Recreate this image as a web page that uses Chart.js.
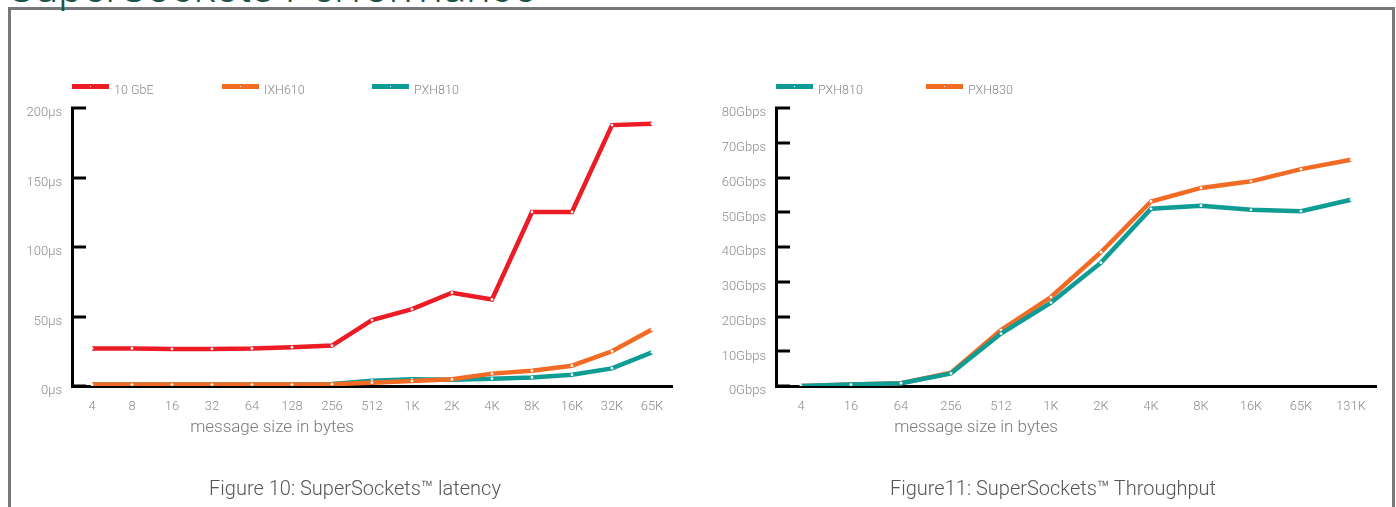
<!DOCTYPE html>
<html>
<head>
<meta charset="utf-8">
<script src="https://cdn.jsdelivr.net/npm/chart.js@4.4.1/dist/chart.umd.min.js"></script>
<style>
  body { margin: 0; width: 1396px; height: 507px; overflow: hidden; background: #fff; position: relative; font-family: Roboto, "Liberation Sans", sans-serif; }
  .frame { position: absolute; left: 8px; top: 7px; width: 1387px; height: 520px; border: 3px solid #77787b; border-bottom: none; box-sizing: border-box; }
  .title { position: absolute; left: 8px; top: -35.5px; font-size: 44px; line-height: 44px; font-weight: 300; color: #1e5248; white-space: nowrap; }
  canvas { position: absolute; top: 0; }
  .caption { position: absolute; top: 476px; width: 500px; text-align: center; font-size: 20px; font-weight: 300; color: #555; }
</style>
</head>
<body>
<div class="frame"></div>
<div class="title">SuperSockets Performance</div>
<canvas id="latency" width="698" height="507" style="left:0"></canvas>
<canvas id="throughput" width="698" height="507" style="left:698px"></canvas>
<div class="caption" style="left:105px">Figure 10: SuperSockets™ latency</div>
<div class="caption" style="left:803px">Figure11: SuperSockets™ Throughput</div>
<script>
// latency, µs
const latencySizes = ['4', '8', '16', '32', '64', '128', '256', '512', '1K', '2K', '4K', '8K', '16K', '32K', '65K'];
const latency10GbE = [27, 27, 26.7, 26.7, 26.9, 27.9, 29.1, 47.4, 55.3, 67.1, 62.3, 125.2, 125.2, 187.7, 188.7];
const latencyIXH610 = [1, 1, 1, 1, 1, 1, 1.3, 2.4, 3.6, 4.8, 8.9, 11, 14.6, 25, 40.6];
const latencyPXH810 = [1, 1, 1, 1, 1, 1, 1.5, 3.8, 4.8, 4.5, 5.3, 6.2, 8.1, 12.7, 24.2];

// throughput, Gbps
const throughputSizes = ['4', '16', '64', '256', '512', '1K', '2K', '4K', '8K', '16K', '65K', '131K'];
const throughputPXH810 = [0, 0.4, 0.8, 3.6, 15.1, 24.0, 35.5, 51.0, 51.9, 50.7, 50.3, 53.6];
const throughputPXH830 = [0, 0.4, 0.8, 3.8, 16.1, 25.6, 38.5, 53.1, 57.0, 58.9, 62.4, 65.1];

const RED = '#ed1c24';
const ORANGE = '#f26b24';
const TEAL = '#0f9c95';
const FONT = 'Roboto, "Liberation Sans", sans-serif';

// inward y ticks, x axis title and the legend row
const decor = {
  id: 'decor',
  afterDraw(chart, args, opts) {
    const { ctx, chartArea, scales } = chart;
    ctx.save();
    ctx.strokeStyle = '#000';
    ctx.lineWidth = 3;
    scales.y.ticks.forEach((t) => {
      const y = Math.round(scales.y.getPixelForValue(t.value));
      ctx.beginPath();
      ctx.moveTo(chartArea.left - 1, y);
      ctx.lineTo(chartArea.left + 14, y);
      ctx.stroke();
    });

    ctx.fillStyle = '#7a7a7a';
    ctx.font = '300 17px ' + FONT;
    ctx.textAlign = 'center';
    ctx.textBaseline = 'middle';
    ctx.fillText(opts.xTitle, chartArea.left + 200, chartArea.bottom + 42);

    ctx.textAlign = 'left';
    ctx.font = '300 12.5px ' + FONT;
    chart.data.datasets.forEach((ds, i) => {
      const x = chartArea.left + i * 150;
      ctx.fillStyle = ds.borderColor;
      ctx.fillRect(x, 84, 37, 5);
      ctx.fillStyle = '#fff';
      ctx.fillRect(x + 18, 86, 1, 1);
      ctx.fillStyle = '#888';
      ctx.fillText(ds.label, x + 42, 91);
    });
    ctx.restore();
  }
};

function line(label, data, color) {
  return {
    label: label,
    data: data,
    borderColor: color,
    backgroundColor: color,
    borderWidth: 4.5,
    tension: 0,
    pointRadius: 1.4,
    pointBorderWidth: 0,
    pointBackgroundColor: '#fff',
    pointHoverRadius: 1.4
  };
}

function makeChart(id, labels, datasets, yMax, yStep, unit, yWidth, padRight) {
  return new Chart(document.getElementById(id), {
    type: 'line',
    data: { labels: labels, datasets: datasets },
    plugins: [decor],
    options: {
      responsive: false,
      animation: false,
      devicePixelRatio: 1,
      layout: { padding: { left: 0, top: 108, right: padRight, bottom: 61 } },
      plugins: {
        legend: { display: false },
        tooltip: { enabled: false },
        decor: { xTitle: 'message size in bytes' }
      },
      scales: {
        x: {
          offset: true,
          grid: { display: false, drawTicks: false },
          border: { display: true, color: '#000', width: 3 },
          ticks: { color: '#8c8c8c', font: { family: FONT, size: 13, weight: '300' }, padding: 13, maxRotation: 0, autoSkip: false },
          afterFit: (s) => { s.height = 60; }
        },
        y: {
          min: 0,
          max: yMax,
          grid: { display: false, drawTicks: false },
          border: { display: true, color: '#000', width: 3 },
          ticks: {
            stepSize: yStep,
            color: '#8c8c8c',
            font: { family: FONT, size: 13, weight: '300' },
            padding: 10,
            labelOffset: 5,
            callback: (v) => v + unit
          },
          afterFit: (s) => { s.width = yWidth; }
        }
      }
    }
  });
}

makeChart('latency', latencySizes, [
  line('10 GbE', latency10GbE, RED),
  line('IXH610', latencyIXH610, ORANGE),
  line('PXH810', latencyPXH810, TEAL)
], 200, 50, 'µs', 72, 26);

makeChart('throughput', throughputSizes, [
  line('PXH810', throughputPXH810, TEAL),
  line('PXH830', throughputPXH830, ORANGE)
], 80, 10, 'Gbps', 78, 20);
</script>
</body>
</html>
